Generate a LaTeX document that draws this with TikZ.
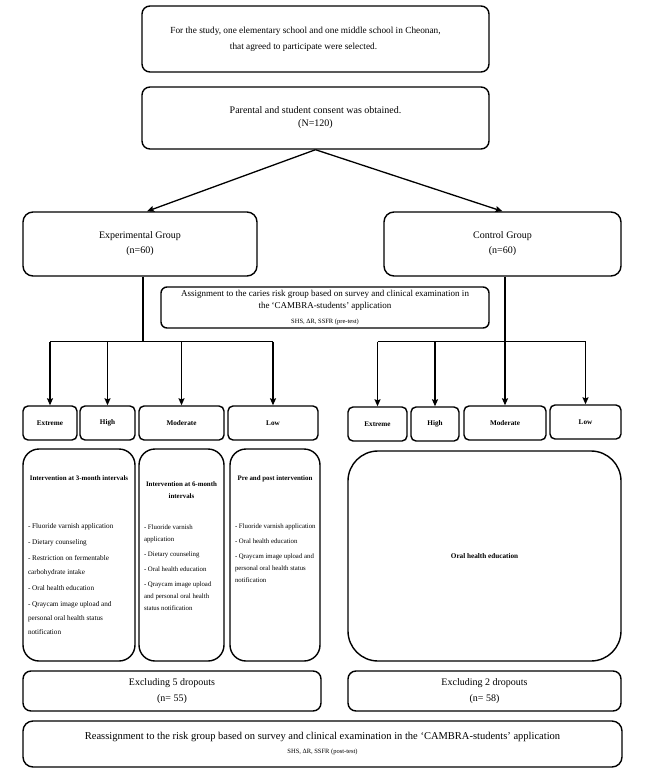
\documentclass[tikz,border=0pt]{standalone}
\usepackage{fontspec}
\setmainfont{Liberation Serif}
\usetikzlibrary{arrows,arrows.meta,positioning,calc}
\newcommand{\fsz}[2]{\fontsize{#1}{#2}\selectfont}
\newcommand{\planbreak}[1][3pt]{\par\vspace{#1}}

\begin{document}
\begin{tikzpicture}[x=1pt,y=-1pt,>={Stealth[length=7pt,width=6pt,inset=1pt]},
	box/.style={draw=black,line width=1.4pt,rounded corners=8pt,align=center,inner sep=0pt},
	risk/.style={box,rounded corners=5pt,minimum height=34pt,font=\fsz{7.2}{9}\bfseries},
	plan/.style={box,rounded corners=16pt,minimum height=212pt,inner sep=5pt},
	flow/.style={->,line width=1.3pt},
	trunk/.style={line width=1.3pt}]
	\useasboundingbox (0,0) rectangle (651,777);
	\node[box,minimum width=347pt,minimum height=66pt,font=\fsz{9.3}{16}] (School) at (315.5,39) {For the study, one elementary school and one middle school in Cheonan,\hspace*{20pt}\\that agreed to participate were selected.\hspace*{24pt}};
	\node[box,minimum width=347pt,minimum height=62pt,font=\fsz{10}{13}] (Consent) at (315.5,118) {Parental and student consent was obtained.\\(N=120)};
	\node[box,rounded corners=10pt,minimum width=234pt,minimum height=64pt,font=\fsz{10}{15}] (Exp) at (140,244) {Experimental Group\\(n=60)};
	\node[box,rounded corners=10pt,minimum width=237pt,minimum height=64pt,font=\fsz{10}{15}] (Ctrl) at (502.5,244) {Control Group\\(n=60)};
	\draw[flow] (Consent.south) -- ([xshift=7pt]Exp.north);
	\draw[flow] (Consent.south) -- (Ctrl.north);
	\node[box,rounded corners=6pt,minimum width=328pt,minimum height=41pt,font=\fsz{9}{12}] (Assign) at (325,307.5) {Assignment to the caries risk group based on survey and clinical examination in\\the `CAMBRA-students' application\\[3pt]{\fsz{6.5}{8}SHS, ΔR, SSFR (pre-test)}};
	% risk groups
	\node[risk,minimum width=54pt] (ExtL) at (50,423) {Extreme};
	\node[risk,minimum width=55pt] (HighL) at (107.5,423) {High};
	\node[risk,minimum width=85pt] (ModL) at (181.5,423) {Moderate};
	\node[risk,minimum width=90pt] (LowL) at (273,423) {Low};
	\node[risk,minimum width=59pt] (ExtR) at (377.5,424) {Extreme};
	\node[risk,minimum width=48pt] (HighR) at (435,424) {High};
	\node[risk,minimum width=82pt] (ModR) at (505,423) {Moderate};
	\node[risk,minimum width=71pt] (LowR) at (585.5,422) {Low};
	\draw[trunk] ([xshift=3pt]Exp.south) -- ++(0,65) coordinate (forkL);
	\draw[trunk] (ExtL.north |- forkL) -- (LowL.north |- forkL);
	\foreach \r in {ExtL,HighL,ModL,LowL}
		\draw[flow] (\r.north |- forkL) -- (\r.north);
	\draw[trunk] ([xshift=2.5pt]Ctrl.south) -- ++(0,65) coordinate (forkR);
	\draw[trunk] (ExtR.north |- forkR) -- (LowR.north |- forkR);
	\foreach \r in {ExtR,HighR,ModR,LowR}
		\draw[flow] (\r.north |- forkR) -- (\r.north);
	% interventions
	\node[plan,minimum width=112pt] (IntA) at (79,555) {\begin{minipage}[c][202pt][t]{102pt}
		\vspace*{22pt}\centering\fsz{6.9}{12}\bfseries Intervention at 3-month intervals\par
		\vspace{34pt}\raggedright\fsz{7.2}{14}\mdseries
		- Fluoride varnish application\planbreak[2pt]
		- Dietary counseling\planbreak[2pt]
		- Restriction on fermentable\\carbohydrate intake\planbreak[2pt]
		- Oral health education\planbreak[2pt]
		- Qraycam image upload and\\personal oral health status\\notification\par
	\end{minipage}};
	\node[plan,minimum width=85pt] (IntB) at (181.5,555) {\begin{minipage}[c][202pt][t]{75pt}
		\vspace*{28pt}\centering\fsz{6.9}{12}\bfseries Intervention at 6-month\\intervals\par
		\vspace{19pt}\raggedright\fsz{6.8}{12}\mdseries
		- Fluoride varnish\\application\planbreak
		- Dietary counseling\planbreak
		- Oral health education\planbreak
		- Qraycam image upload\\and personal oral health\\status notification\par
	\end{minipage}};
	\node[plan,minimum width=90pt] (IntC) at (275,555) {\begin{minipage}[c][202pt][t]{80pt}
		\vspace*{22pt}\centering\fsz{6.9}{12}\bfseries Pre and post intervention\par
		\vspace{36pt}\raggedright\fsz{6.8}{12}\mdseries
		\mbox{- Fluoride varnish application}\planbreak
		- Oral health education\planbreak
		- Qraycam image upload and\\personal oral health status\\notification\par
	\end{minipage}};
	\node[box,rounded corners=30pt,minimum width=273pt,minimum height=210pt,font=\fsz{7.2}{9}\bfseries] (Edu) at (484.5,556) {Oral health education};
	% dropouts
	\node[box,minimum width=298pt,minimum height=40pt,font=\fsz{10}{16}] (ExclL) at (172,691) {Excluding 5 dropouts\\(n= 55)};
	\node[box,minimum width=273pt,minimum height=40pt,font=\fsz{10}{16}] (ExclR) at (484.5,691) {Excluding 2 dropouts\\(n= 58)};
	\node[box,rounded corners=10pt,minimum width=599pt,minimum height=46pt,font=\fsz{10.5}{14}] (Reassign) at (322.5,744) {Reassignment to the risk group based on survey and clinical examination in the `CAMBRA-students' application\\{\fsz{6.5}{8}SHS, ΔR, SSFR (post-test)}};
\end{tikzpicture}
\end{document}
